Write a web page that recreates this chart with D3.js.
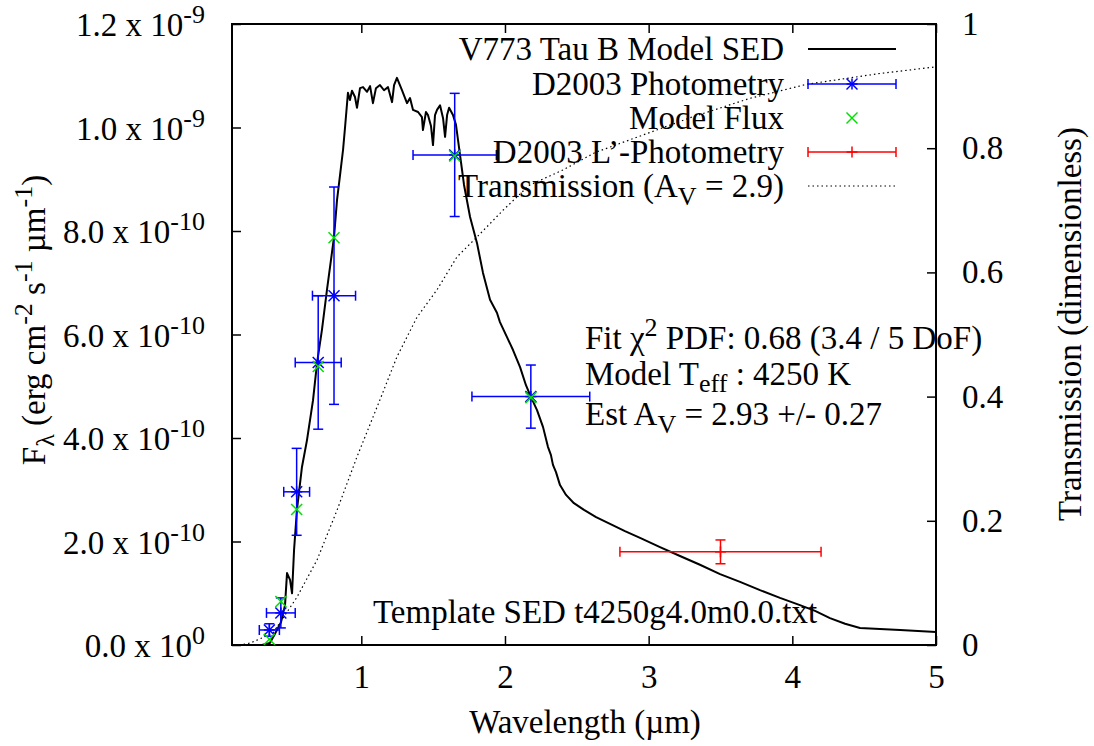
<!doctype html>
<head>
  <meta charset="utf-8">
  <script src="https://cdnjs.cloudflare.com/ajax/libs/d3/7.8.2/d3.min.js"></script>
</head>
<style>
    body { margin: 0; background: #fff; }
    svg text { font-family: "Liberation Serif", "Times New Roman", serif; font-size: 33px; fill: #000; }
</style>
<body>
<div id="chart"></div>
<script>
    // flux values are stored in units of 1e-10 erg cm^-2 s^-1 um^-1
    const FLUX_UNIT = 1e-10;

    // model SED
    const sedWave = [0.309, 0.364, 0.413, 0.441, 0.469, 0.483, 0.504, 0.518, 0.532, 0.552,
        0.587, 0.622, 0.664, 0.692, 0.726, 0.761, 0.810, 0.831, 0.852, 0.873,
        0.887, 0.907, 0.921, 0.935, 0.956, 0.970, 0.991, 1.012, 1.040, 1.061,
        1.081, 1.102, 1.130, 1.158, 1.186, 1.214, 1.228, 1.248, 1.283, 1.318,
        1.339, 1.360, 1.395, 1.422, 1.429, 1.450, 1.464, 1.485, 1.499, 1.513,
        1.527, 1.548, 1.569, 1.583, 1.597, 1.611, 1.638, 1.659, 1.673, 1.701,
        1.715, 1.757, 1.805, 1.847, 1.896, 1.944, 1.965, 2.014, 2.056, 2.105,
        2.146, 2.181, 2.223, 2.265, 2.299, 2.320, 2.334, 2.355, 2.383, 2.425,
        2.480, 2.550, 2.634, 2.731, 2.835, 2.940, 3.079, 3.218, 3.357, 3.497,
        3.636, 3.775, 3.914, 4.053, 4.158, 4.262, 4.367, 4.471, 4.610, 4.750, 5.000];
    const sedFlux = [0.00, 0.04, 0.29, 0.44, 0.77, 1.39, 1.26, 1.00, 1.84, 2.61,
        3.44, 3.96, 4.73, 5.45, 6.09, 6.86, 7.88, 8.60, 9.08, 9.57,
        10.01, 10.67, 10.53, 10.71, 10.59, 10.38, 10.76, 10.78, 10.69, 10.80,
        10.47, 10.76, 10.82, 10.72, 10.78, 10.49, 10.82, 10.96, 10.72, 10.47,
        10.57, 10.34, 10.30, 10.20, 9.95, 10.30, 10.24, 10.03, 9.66, 10.24,
        10.34, 10.43, 10.18, 9.82, 10.24, 10.38, 10.24, 10.05, 9.76, 9.18,
        8.89, 8.27, 7.77, 7.19, 6.67, 6.42, 6.24, 5.95, 5.70, 5.37,
        5.02, 4.79, 4.54, 4.21, 3.83, 3.67, 3.48, 3.34, 3.09, 2.90,
        2.74, 2.61, 2.47, 2.34, 2.20, 2.07, 1.89, 1.72, 1.55, 1.37,
        1.22, 1.06, 0.91, 0.77, 0.66, 0.52, 0.41, 0.33, 0.31, 0.29, 0.25];

    // D2003 photometry
    const photWave = [0.36, 0.44, 0.55, 0.70, 0.81, 1.65, 2.18];
    const photFlux = [0.29, 0.62, 2.96, 5.46, 6.75, 9.47, 4.80];
    const photWaveErr = [0.07, 0.10, 0.09, 0.16, 0.15, 0.29, 0.41];
    const photFluxErr = [0.12, 0.29, 0.84, 1.29, 2.10, 1.19, 0.61];

    // model flux in the same bands
    const modelWave = [0.36, 0.44, 0.55, 0.70, 0.81, 1.65, 2.18];
    const modelFlux = [0.11, 0.84, 2.62, 5.38, 7.87, 9.45, 4.78];

    // D2003 L' photometry
    const lpWave = [3.50];
    const lpFlux = [1.80];
    const lpWaveErr = [0.70];
    const lpFluxErr = [0.23];

    // transmission (right axis)
    const transWave = [0.15, 0.225, 0.385, 0.552, 0.692, 0.831, 0.970, 1.130, 1.248, 1.388,
        1.527, 1.666, 1.805, 1.986, 2.167, 2.404, 2.627, 3.288, 3.700, 4.102, 4.600, 5.000];
    const transVal = [0.000, 0.003, 0.019, 0.077, 0.137, 0.217, 0.303, 0.395, 0.464, 0.528,
        0.572, 0.625, 0.657, 0.700, 0.740, 0.765, 0.793, 0.849, 0.880, 0.903, 0.920, 0.931];

    // ticks
    const xTicks = [1, 2, 3, 4, 5];
    const yTicks = [0, 2, 4, 6, 8, 10, 12];
    const y2Ticks = [0, 0.2, 0.4, 0.6, 0.8, 1];

    const W = 1094, H = 746;
    const pLeft = 232, pRight = 936, pTop = 24, pBottom = 645;

    const svg = d3.select('#chart').append('svg')
        .attr('width', W)
        .attr('height', H);

    const x = d3.scaleLinear().domain([0.1, 5]).range([pLeft, pRight]);
    const y = d3.scaleLinear().domain([0, 12 * FLUX_UNIT]).range([pBottom, pTop]);
    const y2 = d3.scaleLinear().domain([0, 1]).range([pBottom, pTop]);

    // axes (ticks pointing inwards, like gnuplot)
    const axB = svg.append('g').attr('transform', `translate(0,${pBottom})`)
        .call(d3.axisBottom(x).tickValues(xTicks).tickSizeInner(-9).tickSizeOuter(0).tickPadding(20).tickFormat(d => String(d)));
    const axT = svg.append('g').attr('transform', `translate(0,${pTop})`)
        .call(d3.axisTop(x).tickValues(xTicks).tickSizeInner(-9).tickSizeOuter(0).tickFormat(''));
    const axL = svg.append('g').attr('transform', `translate(${pLeft},0)`)
        .call(d3.axisLeft(y).tickValues(yTicks.map(v => v * FLUX_UNIT)).tickSizeInner(-9).tickSizeOuter(0).tickFormat(''));
    const axR = svg.append('g').attr('transform', `translate(${pRight},0)`)
        .call(d3.axisRight(y2).tickValues(y2Ticks).tickSizeInner(-9).tickSizeOuter(0).tickPadding(26).tickFormat(d => String(d)));

    [axB, axT, axL, axR].forEach(a => {
        a.attr('font-family', null).attr('font-size', null);
        a.select('.domain').remove();
        a.selectAll('line').attr('stroke', '#000').attr('stroke-width', 1.5);
    });

    // left tick labels "m.m x 10^e"
    yTicks.forEach(v => {
        const val = v * FLUX_UNIT;
        const e = v === 0 ? 0 : Math.floor(Math.log10(val) + 1e-9);
        const m = val / Math.pow(10, e);
        const t = svg.append('text')
            .attr('x', 205)
            .attr('y', y(val) + 12)
            .attr('text-anchor', 'end');
        t.append('tspan').text(m.toFixed(1) + ' x 10');
        t.append('tspan').attr('dy', -13).attr('font-size', 26).text(e);
    });

    // plot frame
    svg.append('rect')
        .attr('x', pLeft).attr('y', pTop)
        .attr('width', pRight - pLeft).attr('height', pBottom - pTop)
        .attr('fill', 'none').attr('stroke', '#000').attr('stroke-width', 2);

    // transmission curve (dotted)
    const transLine = d3.line().x(d => x(d[0])).y(d => y2(d[1]));
    svg.append('path')
        .datum(transWave.map((w, i) => [w, transVal[i]]))
        .attr('d', transLine)
        .attr('fill', 'none')
        .attr('stroke', '#000')
        .attr('stroke-width', 1.2)
        .attr('stroke-dasharray', '1.5 3');

    // model SED
    const sedLine = d3.line().x(d => x(d[0])).y(d => y(d[1] * FLUX_UNIT));
    svg.append('path')
        .datum(sedWave.map((w, i) => [w, sedFlux[i]]))
        .attr('d', sedLine)
        .attr('fill', 'none')
        .attr('stroke', '#000')
        .attr('stroke-width', 2)
        .attr('stroke-linejoin', 'round');

    const cap = 5;

    // draws xy error bars with caps
    function errorBars(g, px, py, dx, dy, color) {
        const x0 = x(px - dx), x1 = x(px + dx);
        const yc = y(py * FLUX_UNIT);
        const y0 = y((py - dy) * FLUX_UNIT), y1 = y((py + dy) * FLUX_UNIT);
        const xc = x(px);
        const segs = [
            [x0, yc, x1, yc], [x0, yc - cap, x0, yc + cap], [x1, yc - cap, x1, yc + cap],
            [xc, y0, xc, y1], [xc - cap, y0, xc + cap, y0], [xc - cap, y1, xc + cap, y1]
        ];
        segs.forEach(s => g.append('line')
            .attr('x1', s[0]).attr('y1', s[1]).attr('x2', s[2]).attr('y2', s[3])
            .attr('stroke', color).attr('stroke-width', 1.5));
    }

    function starMark(g, cx, cy, color, r) {
        [[-r, 0, r, 0], [0, -r, 0, r], [-r, -r, r, r], [-r, r, r, -r]].forEach(s => g.append('line')
            .attr('x1', cx + s[0]).attr('y1', cy + s[1]).attr('x2', cx + s[2]).attr('y2', cy + s[3])
            .attr('stroke', color).attr('stroke-width', 1.5));
    }
    function crossMark(g, cx, cy, color, r) {
        [[-r, -r, r, r], [-r, r, r, -r]].forEach(s => g.append('line')
            .attr('x1', cx + s[0]).attr('y1', cy + s[1]).attr('x2', cx + s[2]).attr('y2', cy + s[3])
            .attr('stroke', color).attr('stroke-width', 1.5));
    }
    function plusMark(g, cx, cy, color, r) {
        [[-r, 0, r, 0], [0, -r, 0, r]].forEach(s => g.append('line')
            .attr('x1', cx + s[0]).attr('y1', cy + s[1]).attr('x2', cx + s[2]).attr('y2', cy + s[3])
            .attr('stroke', color).attr('stroke-width', 1.5));
    }

    // photometry
    const gPhot = svg.append('g');
    photWave.forEach((w, i) => {
        errorBars(gPhot, w, photFlux[i], photWaveErr[i], photFluxErr[i], '#0000ff');
        starMark(gPhot, x(w), y(photFlux[i] * FLUX_UNIT), '#0000ff', 5.5);
    });

    // model flux
    const gModel = svg.append('g');
    modelWave.forEach((w, i) => crossMark(gModel, x(w), y(modelFlux[i] * FLUX_UNIT), '#00e000', 5.5));

    // L' photometry
    const gLp = svg.append('g');
    lpWave.forEach((w, i) => {
        errorBars(gLp, w, lpFlux[i], lpWaveErr[i], lpFluxErr[i], '#ff0000');
        plusMark(gLp, x(w), y(lpFlux[i] * FLUX_UNIT), '#ff0000', 5.5);
    });

    // legend
    const legX = 784, l0 = 808, l1 = 896, lm = 852;
    const rowY = [49, 84, 118, 152, 186];
    const leg = svg.append('g');
    const addLegText = (i) => leg.append('text').attr('x', legX).attr('y', rowY[i] + 11).attr('text-anchor', 'end');

    addLegText(0).text('V773 Tau B Model SED');
    leg.append('line').attr('x1', l0).attr('x2', l1).attr('y1', rowY[0]).attr('y2', rowY[0])
        .attr('stroke', '#000').attr('stroke-width', 2);

    addLegText(1).text('D2003 Photometry');
    [[l0, rowY[1], l1, rowY[1]], [l0, rowY[1] - cap, l0, rowY[1] + cap], [l1, rowY[1] - cap, l1, rowY[1] + cap]]
        .forEach(s => leg.append('line').attr('x1', s[0]).attr('y1', s[1]).attr('x2', s[2]).attr('y2', s[3])
            .attr('stroke', '#0000ff').attr('stroke-width', 1.5));
    starMark(leg, lm, rowY[1], '#0000ff', 5.5);

    addLegText(2).text('Model Flux');
    crossMark(leg, lm, rowY[2], '#00e000', 5.5);

    addLegText(3).text('D2003 L\u2019-Photometry');
    [[l0, rowY[3], l1, rowY[3]], [l0, rowY[3] - cap, l0, rowY[3] + cap], [l1, rowY[3] - cap, l1, rowY[3] + cap]]
        .forEach(s => leg.append('line').attr('x1', s[0]).attr('y1', s[1]).attr('x2', s[2]).attr('y2', s[3])
            .attr('stroke', '#ff0000').attr('stroke-width', 1.5));
    plusMark(leg, lm, rowY[3], '#ff0000', 5.5);

    const tt = addLegText(4);
    tt.append('tspan').text('Transmission (A');
    tt.append('tspan').attr('dy', 8).attr('font-size', 26).text('V');
    tt.append('tspan').attr('dy', -8).text(' = 2.9)');
    leg.append('line').attr('x1', l0).attr('x2', l1).attr('y1', rowY[4]).attr('y2', rowY[4])
        .attr('stroke', '#000').attr('stroke-width', 1.2).attr('stroke-dasharray', '1.5 3');

    // annotations
    const a1 = svg.append('text').attr('x', 585).attr('y', 349);
    a1.append('tspan').text('Fit \u03c7');
    a1.append('tspan').attr('dy', -13).attr('font-size', 26).text('2');
    a1.append('tspan').attr('dy', 13).text(' PDF: 0.68 (3.4 / 5 DoF)');

    const a2 = svg.append('text').attr('x', 585).attr('y', 385);
    a2.append('tspan').text('Model T');
    a2.append('tspan').attr('dy', 7).attr('font-size', 26).text('eff');
    a2.append('tspan').attr('dy', -7).text(' : 4250 K');

    const a3 = svg.append('text').attr('x', 585).attr('y', 425);
    a3.append('tspan').text('Est A');
    a3.append('tspan').attr('dy', 8).attr('font-size', 26).text('V');
    a3.append('tspan').attr('dy', -8).text(' = 2.93 +/- 0.27');

    svg.append('text').attr('x', 373).attr('y', 623).text('Template SED t4250g4.0m0.0.txt');

    // axis titles
    svg.append('text').attr('x', 585).attr('y', 733).attr('text-anchor', 'middle').text('Wavelength (\u00b5m)');

    const yl = svg.append('text')
        .attr('transform', 'translate(45,320) rotate(-90)')
        .attr('text-anchor', 'middle');
    yl.append('tspan').text('F');
    yl.append('tspan').attr('dy', 9).attr('font-size', 26).text('\u03bb');
    yl.append('tspan').attr('dy', -9).text(' (erg cm');
    yl.append('tspan').attr('dy', -13).attr('font-size', 26).text('-2');
    yl.append('tspan').attr('dy', 13).text(' s');
    yl.append('tspan').attr('dy', -13).attr('font-size', 26).text('-1');
    yl.append('tspan').attr('dy', 13).text(' \u00b5m');
    yl.append('tspan').attr('dy', -13).attr('font-size', 26).text('-1');
    yl.append('tspan').attr('dy', 13).text(')');

    svg.append('text')
        .attr('transform', 'translate(1081,324) rotate(-90)')
        .attr('text-anchor', 'middle')
        .text('Transmission (dimensionless)');
</script>
</body>
